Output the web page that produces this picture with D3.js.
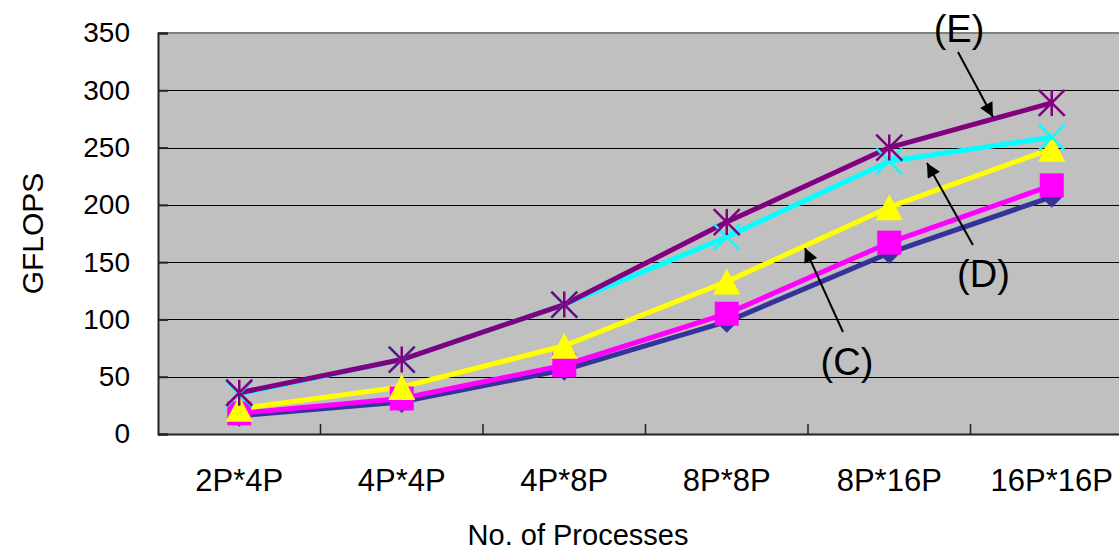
<!DOCTYPE html>
<html>
<head>
<meta charset="utf-8">
<script src="https://cdn.jsdelivr.net/npm/d3@7/dist/d3.min.js"></script>
<style>
  html, body { margin: 0; padding: 0; background: #fff; overflow: hidden; }
  svg { display: block; }
  text { font-family: "Liberation Sans", Arial, sans-serif; fill: #000; }
</style>
</head>
<body>
<svg id="chart" width="1119" height="550"></svg>
<script>
// ---- data ----
const categories = ["2P*4P", "4P*4P", "4P*8P", "8P*8P", "8P*16P", "16P*16P"];
const seriesA = [16, 28, 56, 98, 158, 207];   // dark blue, diamond
const seriesB = [18, 31, 60, 105, 167, 217];  // magenta, square
const seriesC = [22, 41, 77, 133, 198, 249];  // yellow, triangle
const seriesD = [35, 65, 113, 172, 238, 259]; // cyan, cross
const seriesE = [36, 65, 113, 185, 250, 289]; // purple, asterisk
const yTicks = [0, 50, 100, 150, 200, 250, 300, 350];
const yTitle = "GFLOPS";
const xTitle = "No. of Processes";
// annotations: [label, text (catIndex, value), arrow tail (catIndex, value), arrow tip (catIndex, value)]
const annotations = [
  ["(E)", [4.429, 342.1], [4.423, 333.4], [4.638, 276.7]],
  ["(D)", [4.580, 128.3], [4.515, 165.0], [4.232, 236.5]],
  ["(C)", [3.740, 51.5],  [3.715, 89.0],  [3.481, 162.3]]
];

// ---- layout ----
const svg = d3.select("#chart");
const plotLeft = 158, plotTop = 33, plotW = 975, plotH = 401;
const plotBottom = plotTop + plotH;

const x = d3.scaleBand().domain(categories).range([plotLeft, plotLeft + plotW]).padding(0);
const xi = d3.scaleLinear().domain([0, 1]).range([x(categories[0]) + x.bandwidth() / 2, x(categories[1]) + x.bandwidth() / 2]);
const y = d3.scaleLinear().domain([0, 350]).range([plotBottom, plotTop]);

// plot background
svg.append("rect").attr("x", plotLeft).attr("y", plotTop).attr("width", plotW).attr("height", plotH).attr("fill", "#C0C0C0");

// gridlines
svg.append("g").selectAll("line").data(yTicks.filter(d => d > 0 && d < 350)).join("line")
  .attr("x1", plotLeft).attr("x2", plotLeft + plotW)
  .attr("y1", d => Math.round(y(d)) + 0.5).attr("y2", d => Math.round(y(d)) + 0.5)
  .attr("stroke", "#000").attr("stroke-width", 1.2);

// top border
svg.append("line").attr("x1", plotLeft).attr("x2", plotLeft + plotW).attr("y1", plotTop).attr("y2", plotTop)
  .attr("stroke", "#808080").attr("stroke-width", 2);

// y axis
const yAxis = d3.axisLeft(y).tickValues(yTicks).tickSize(-10).tickPadding(28).tickFormat(d3.format("d"));
const gy = svg.append("g").attr("transform", `translate(${plotLeft},0)`).call(yAxis);
gy.select(".domain").attr("stroke", "#222").attr("stroke-width", 2);
gy.selectAll(".tick line").attr("stroke", "#222").attr("stroke-width", 2);
gy.selectAll(".tick text").attr("font-size", 28).attr("font-family", "Liberation Sans, Arial, sans-serif").attr("fill", "#000");

// x axis
const xAxis = d3.axisBottom(x).tickSize(0).tickPadding(35);
const gx = svg.append("g").attr("transform", `translate(0,${plotBottom})`).call(xAxis);
gx.select(".domain").attr("stroke", "#222").attr("stroke-width", 2);
gx.selectAll(".tick text").attr("font-size", 31).attr("font-family", "Liberation Sans, Arial, sans-serif").attr("fill", "#000");
// category boundary ticks (inside)
svg.append("g").selectAll("line").data(categories.slice(1)).join("line")
  .attr("x1", d => x(d)).attr("x2", d => x(d))
  .attr("y1", plotBottom).attr("y2", plotBottom - 10)
  .attr("stroke", "#222").attr("stroke-width", 1.5);

// axis titles
svg.append("text").attr("transform", `translate(43,${(plotTop + plotBottom) / 2}) rotate(-90)`)
  .attr("text-anchor", "middle").attr("font-size", 30).text(yTitle);
svg.append("text").attr("x", 578).attr("y", 545).attr("text-anchor", "middle")
  .attr("font-size", 29).text(xTitle);

// ---- series ----
const series = [
  { values: seriesA, color: "#333399", marker: "diamond" },
  { values: seriesB, color: "#FF00FF", marker: "square" },
  { values: seriesC, color: "#FFFF00", marker: "triangle" },
  { values: seriesD, color: "#00FFFF", marker: "cross" },
  { values: seriesE, color: "#800080", marker: "asterisk" }
];

const cx = i => x(categories[i]) + x.bandwidth() / 2;
const line = d3.line().x((d, i) => cx(i)).y(d => y(d));

const gl = svg.append("g");
series.forEach(s => {
  gl.append("path").datum(s.values).attr("d", line)
    .attr("fill", "none").attr("stroke", s.color).attr("stroke-width", 5)
    .attr("stroke-linejoin", "round");
});

const gm = svg.append("g");
series.forEach(s => {
  const g = gm.append("g");
  s.values.forEach((v, i) => {
    const px = cx(i), py = y(v);
    const mg = g.append("g").attr("transform", `translate(${px},${py})`);
    if (s.marker === "diamond") {
      mg.append("path").attr("d", "M0,-11L11,0L0,11L-11,0Z").attr("fill", s.color);
    } else if (s.marker === "square") {
      mg.append("rect").attr("x", -12).attr("y", -12).attr("width", 24).attr("height", 24).attr("fill", s.color);
    } else if (s.marker === "triangle") {
      mg.append("path").attr("d", "M0,-13L13.5,13L-13.5,13Z").attr("fill", s.color);
    } else if (s.marker === "cross") {
      mg.append("path").attr("d", "M-13,-13L13,13M-13,13L13,-13")
        .attr("stroke", s.color).attr("stroke-width", 2.5).attr("fill", "none");
    } else if (s.marker === "asterisk") {
      mg.append("path").attr("d", "M-13,-13L13,13M-13,13L13,-13M0,-13L0,13")
        .attr("stroke", s.color).attr("stroke-width", 2.5).attr("fill", "none");
    }
  });
});

// ---- annotations ----
svg.append("defs").append("marker")
  .attr("id", "arrow").attr("viewBox", "0 0 10 10").attr("refX", 10).attr("refY", 5)
  .attr("markerWidth", 8).attr("markerHeight", 7).attr("markerUnits", "strokeWidth")
  .attr("orient", "auto")
  .append("path").attr("d", "M0,0L10,5L0,10Z").attr("fill", "#000");

const ga = svg.append("g");
annotations.forEach(([label, t, tail, tip]) => {
  ga.append("line")
    .attr("x1", xi(tail[0])).attr("y1", y(tail[1]))
    .attr("x2", xi(tip[0])).attr("y2", y(tip[1]))
    .attr("stroke", "#000").attr("stroke-width", 2).attr("marker-end", "url(#arrow)");
  ga.append("text").attr("x", xi(t[0])).attr("y", y(t[1]))
    .attr("text-anchor", "middle").attr("font-size", 38).text(label);
});
</script>
</body>
</html>
